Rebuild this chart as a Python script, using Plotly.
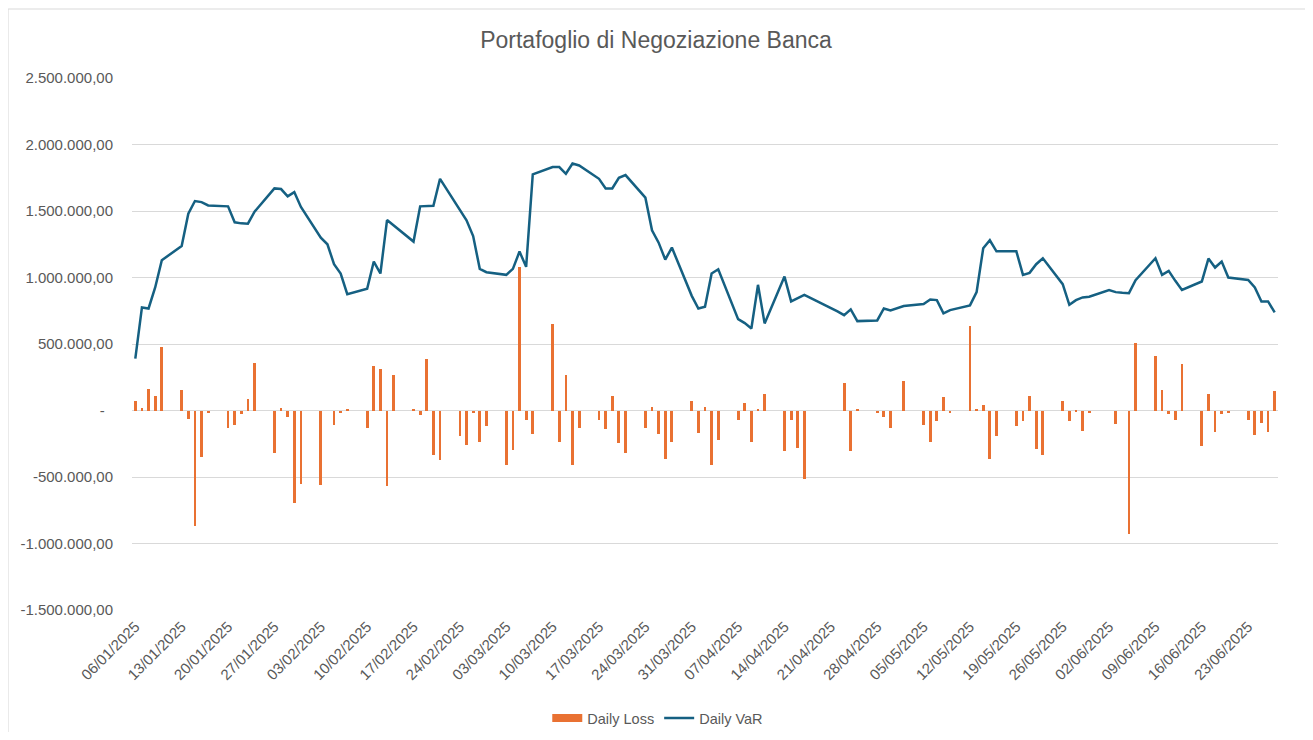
import pandas as pd
import plotly.graph_objects as go

# trading days (TARGET holidays 18/04, 21/04, 01/05 are not in the series)
start_date = "2025-01-06"
end_date = "2025-06-27"
closed_days = ["2025-04-18", "2025-04-21", "2025-05-01"]
days = [d for d in pd.bdate_range(start_date, end_date) if d.strftime("%Y-%m-%d") not in closed_days]

# values in thousands of euro, one row per week
daily_loss_k = [
    70, 22, 165, 110, 480,
    157, -65, -870, -352, -20,
    -130, -110, -25, 90, 360,
    -320, 17, -50, -695, -555,
    -562, 0, -110, -20, 7,
    -130, 337, 312, -567, 267,
    15, -32, 387, -337, -370,
    -195, -262, -20, -237, -115,
    -410, -297, 1082, -75, -177,
    650, -237, 270, -412, -130,
    -75, -142, 110, -245, -320,
    -130, 30, -177, -365, -237,
    75, -170, 30, -410, -225,
    -70, 57, -237, 15, 125,
    -305, -75, -280, -512,
    0, 207, -305, 7,
    -22, -50, -130, 225,
    -110, -237, -77, 105, -20,
    632, 7, 42, -365, -190,
    -117, -77, 110, -292, -337,
    75, -77, -5, -157, -15,
    0, -100, 0, -930, 507,
    410, 157, -25, -75, 350,
    -270, 125, -162, -27, -17,
    -70, -182, -95, -162, 150,
]

daily_var_k = [
    390, 775, 767, 925, 1130,
    1237, 1480, 1575, 1567, 1542,
    1535, 1415, 1407, 1405, 1495,
    1670, 1665, 1610, 1642, 1530,
    1300, 1250, 1100, 1030, 875,
    915, 1120, 1030, 1432, 1390,
    1270, 1535, 1537, 1540, 1742,
    1502, 1430, 1312, 1065, 1040,
    1020, 1065, 1195, 1080, 1775,
    1830, 1830, 1780, 1857, 1842,
    1742, 1670, 1670, 1750, 1770,
    1600, 1355, 1262, 1135, 1225,
    862, 767, 780, 1030, 1062,
    687, 657, 617, 945, 655,
    1007, 820, 845, 870,
    745, 717, 760, 672,
    677, 767, 752, 785,
    800, 835, 830, 730, 755,
    790, 890, 1220, 1280, 1197,
    1197, 1020, 1035, 1100, 1145,
    950, 795, 830, 850, 855,
    905, 890, 885, 882, 980,
    1145, 1020, 1050, 975, 907,
    970, 1142, 1075, 1120, 1000,
    982, 925, 820, 820, 737,
]

y_tick_vals = [-1500000, -1000000, -500000, 0, 500000, 1000000, 1500000, 2000000, 2500000]
y_tick_text = ["-1.500.000,00", "-1.000.000,00", "-500.000,00", "-\u00a0\u00a0",
               "500.000,00", "1.000.000,00", "1.500.000,00", "2.000.000,00", "2.500.000,00"]

title = "Portafoglio di Negoziazione Banca"
ORANGE = "#E97132"
BLUE = "#156082"
TEXT = "#595959"
GRID = "#D9D9D9"
FONT = "Liberation Sans, Arial, sans-serif"

df = pd.DataFrame({
    "date": days,
    "loss": [v * 1000 for v in daily_loss_k],
    "var": [v * 1000 for v in daily_var_k],
})

fig = go.Figure()

fig.add_trace(go.Bar(
    x=df["date"], y=df["loss"], name="Daily Loss",
    marker=dict(color=ORANGE, line=dict(width=0)),
    width=0.42 * 86400000,
    showlegend=False,
))

# legend entry drawn as a wide flat swatch like the Excel one
fig.add_trace(go.Scatter(
    x=[None], y=[None], mode="lines", name="Daily Loss",
    line=dict(color=ORANGE, width=8),
))

fig.add_trace(go.Scatter(
    x=df["date"], y=df["var"], mode="lines", name="Daily VaR",
    line=dict(color=BLUE, width=2.5),
))

# page has an 8px body margin, so the figure is laid out 8px in from the corner
W, H = 1297, 724
L, T = 124, 70
pw, ph = 1146.5, 532
R, B = W - L - pw, H - T - ph

fig.update_layout(
    width=W, height=H,
    margin=dict(l=L, r=R, t=T, b=B, pad=0, autoexpand=False),
    paper_bgcolor="white", plot_bgcolor="white",
    font=dict(family=FONT, color=TEXT, size=15),
    title=dict(text=title, x=(656 - 8) / W, xref="container", xanchor="center",
               y=1 - 32 / H, yref="container", yanchor="middle",
               font=dict(size=23, color=TEXT, family=FONT)),
    bargap=0,
    legend=dict(orientation="h", x=(658 - 8 - L) / pw, xanchor="center",
                y=-(710 - (T + ph)) / ph, yanchor="middle",
                font=dict(size=14.5, color=TEXT), traceorder="normal"),
    shapes=[dict(type="rect", xref="paper", yref="paper",
                 x0=-L / pw, x1=(1301 - L) / pw,
                 y0=-(H + 20 - (T + ph)) / ph, y1=(T + ph - 1) / ph,
                 line=dict(color=GRID, width=1), fillcolor="rgba(0,0,0,0)", layer="below")],
)

fig.update_xaxes(
    type="date",
    range=["2025-01-05 12:00", "2025-06-27 12:00"],
    tick0=start_date, dtick=7 * 86400000, tickformat="%d/%m/%Y",
    tickangle=-45, tickfont=dict(size=15, color=TEXT),
    showgrid=False, showline=False, ticks="", ticklabelstandoff=4,
    zeroline=False,
)

fig.update_yaxes(
    range=[-1500000, 2500000],
    tickvals=y_tick_vals, ticktext=y_tick_text,
    tickfont=dict(size=15, color=TEXT),
    showgrid=True, gridcolor=GRID, gridwidth=1,
    zeroline=True, zerolinecolor=GRID, zerolinewidth=1,
    showline=False, ticks="", ticklabelstandoff=18,
)

fig.write_html("out.html")
